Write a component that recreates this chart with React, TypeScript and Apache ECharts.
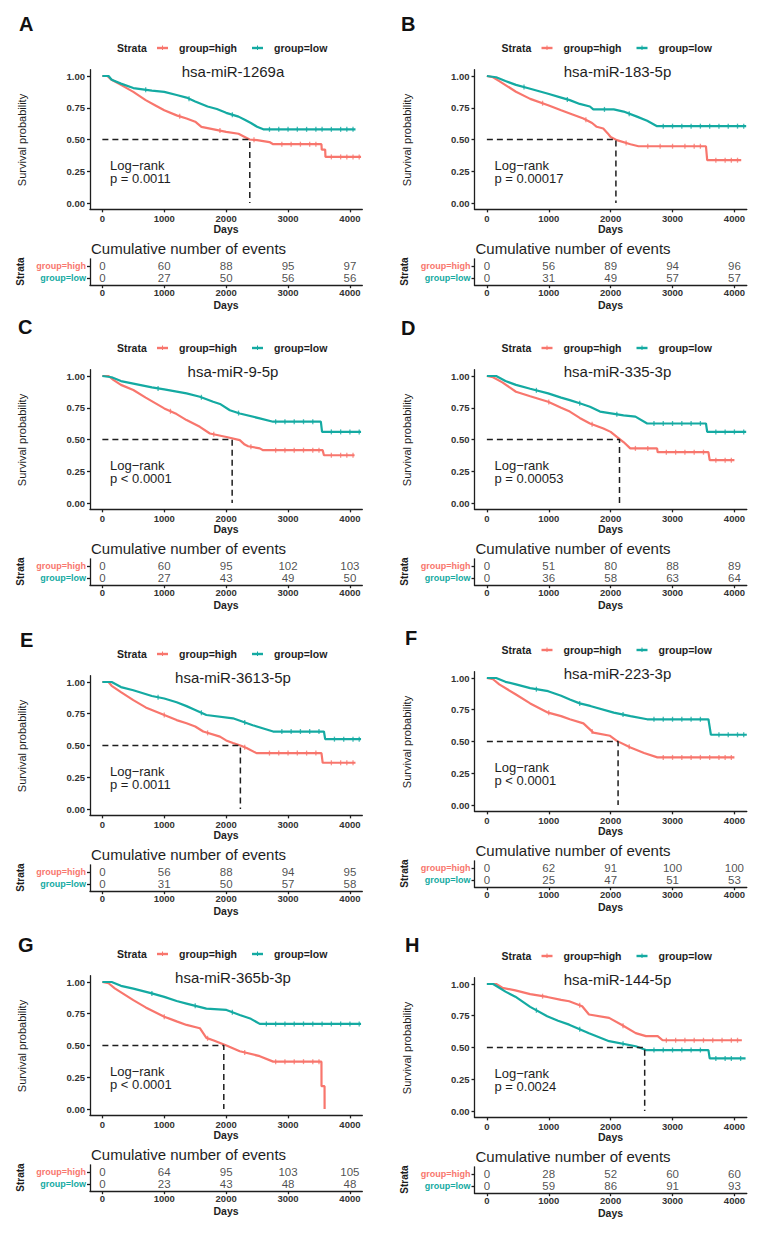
import React, { useEffect, useRef } from "react";
import * as echarts from "echarts";

// ---------------- DATA ----------------
const panelLetters = ["A", "B", "C", "D", "E", "F", "G", "H"];
const titles = [
  "hsa-miR-1269a", "hsa-miR-183-5p", "hsa-miR-9-5p", "hsa-miR-335-3p",
  "hsa-miR-3613-5p", "hsa-miR-223-3p", "hsa-miR-365b-3p", "hsa-miR-144-5p",
];
const pTexts = [
  "p = 0.0011", "p = 0.00017", "p < 0.0001", "p = 0.00053",
  "p = 0.0011", "p < 0.0001", "p < 0.0001", "p = 0.0024",
];
const medianDays = [2382, 2085, 2097, 2143, 2230, 2120, 1962, 2550];
const timeTicks = [0, 1000, 2000, 3000, 4000];
const survTicks = [0, 0.25, 0.5, 0.75, 1];
const strataNames = ["group=high", "group=low"];

// Kaplan-Meier curves: [days, survival probability]
const kmA_high = [[0,1],[80,1],[150,0.97],[300,0.93],[500,0.875],[700,0.81],[850,0.77],[1000,0.73],[1200,0.69],[1360,0.665],[1500,0.64],[1600,0.6],[1800,0.58],[2000,0.56],[2200,0.545],[2300,0.52],[2380,0.5],[2500,0.495],[2700,0.48],[2760,0.463],[3540,0.463],[3545,0.42],[3600,0.42],[3605,0.363],[4180,0.363]];
const kmA_low = [[0,1],[100,1],[150,0.97],[300,0.94],[500,0.905],[800,0.885],[1000,0.875],[1200,0.85],[1360,0.83],[1500,0.8],[1600,0.78],[1700,0.76],[1850,0.74],[2000,0.71],[2200,0.68],[2300,0.655],[2400,0.63],[2500,0.6],[2600,0.58],[4090,0.58]];
const kmB_high = [[0,1],[100,0.99],[200,0.96],[470,0.876],[700,0.82],[990,0.77],[1200,0.73],[1340,0.705],[1560,0.666],[1700,0.63],[1775,0.6],[1880,0.587],[1950,0.55],[2000,0.52],[2100,0.495],[2320,0.463],[2450,0.447],[3540,0.447],[3560,0.337],[4110,0.337]];
const kmB_low = [[0,1],[150,0.99],[300,0.96],[470,0.93],[700,0.9],[990,0.86],[1200,0.83],[1340,0.81],[1500,0.78],[1665,0.76],[1720,0.737],[2050,0.737],[2210,0.72],[2425,0.68],[2590,0.647],[2750,0.605],[4190,0.605]];
const kmC_high = [[0,1],[100,1],[177,0.97],[300,0.93],[500,0.89],[700,0.83],[1000,0.745],[1200,0.7],[1360,0.653],[1575,0.6],[1737,0.547],[2005,0.52],[2220,0.495],[2300,0.46],[2355,0.447],[2543,0.43],[2597,0.416],[3560,0.416],[3580,0.376],[4075,0.376]];
const kmC_low = [[0,1],[150,0.99],[300,0.96],[500,0.94],[800,0.91],[1000,0.895],[1360,0.863],[1575,0.837],[1790,0.797],[1900,0.78],[2060,0.73],[2220,0.705],[2543,0.666],[2758,0.64],[3530,0.64],[3550,0.56],[4180,0.56]];
const kmD_high = [[0,1],[100,0.99],[250,0.95],[470,0.876],[700,0.84],[990,0.797],[1200,0.75],[1340,0.72],[1500,0.67],[1666,0.626],[1883,0.587],[2000,0.56],[2100,0.52],[2208,0.48],[2317,0.43],[2750,0.43],[2760,0.4],[3580,0.4],[3600,0.337],[4000,0.337]];
const kmD_low = [[0,1],[150,1],[300,0.96],[470,0.93],[700,0.9],[990,0.863],[1200,0.83],[1340,0.81],[1500,0.785],[1666,0.758],[1828,0.72],[2208,0.69],[2400,0.68],[2590,0.626],[3540,0.626],[3560,0.56],[4190,0.56]];
const kmE_high = [[0,1],[100,1],[150,0.97],[300,0.92],[500,0.857],[700,0.8],[1000,0.74],[1200,0.7],[1360,0.675],[1500,0.65],[1630,0.61],[1900,0.57],[2000,0.54],[2110,0.52],[2230,0.5],[2330,0.48],[2490,0.44],[3540,0.44],[3560,0.364],[4090,0.364]];
const kmE_low = [[0,1],[150,1],[300,0.96],[500,0.935],[800,0.89],[1000,0.87],[1200,0.84],[1360,0.81],[1500,0.78],[1680,0.74],[2110,0.714],[2430,0.66],[2760,0.61],[3580,0.61],[3600,0.55],[4180,0.55]];
const kmF_high = [[0,1],[100,0.99],[200,0.95],[470,0.87],[700,0.8],[990,0.727],[1200,0.7],[1340,0.675],[1560,0.643],[1720,0.57],[1990,0.545],[2100,0.505],[2320,0.453],[2540,0.41],[2755,0.375],[4000,0.375]];
const kmF_low = [[0,1],[150,1],[300,0.97],[470,0.95],[700,0.92],[990,0.896],[1200,0.86],[1340,0.83],[1500,0.8],[1670,0.78],[2050,0.727],[2320,0.7],[2590,0.675],[3580,0.675],[3620,0.553],[4200,0.553]];
const kmG_high = [[0,1],[100,0.99],[200,0.95],[500,0.857],[700,0.8],[1000,0.727],[1200,0.69],[1360,0.662],[1575,0.636],[1680,0.56],[1800,0.54],[2005,0.5],[2220,0.455],[2543,0.416],[2760,0.373],[3540,0.373],[3541,0.18],[3590,0.18],[3591,0]];
const kmG_low = [[0,1],[150,1],[300,0.97],[500,0.948],[800,0.91],[1000,0.883],[1200,0.85],[1360,0.83],[1680,0.79],[2005,0.78],[2220,0.74],[2400,0.71],[2543,0.67],[4180,0.67]];
const kmH_high = [[0,1],[150,1],[250,0.97],[460,0.95],[700,0.92],[975,0.898],[1200,0.875],[1330,0.864],[1540,0.825],[1650,0.76],[1975,0.733],[2190,0.675],[2405,0.613],[2570,0.59],[2760,0.59],[2840,0.557],[4120,0.557]];
const kmH_low = [[0,1],[100,1],[200,0.97],[300,0.94],[460,0.9],[700,0.82],[975,0.746],[1150,0.71],[1330,0.68],[1650,0.613],[1975,0.55],[2405,0.51],[2570,0.48],[3580,0.48],[3600,0.414],[4180,0.414]];

// Censoring times (days) shown as tick marks on the curves
const cA_high = [1250, 1900, 2450, 2900, 3050, 3200, 3350, 3450, 3700, 3850, 3950, 4050, 4150];
const cA_low = [700, 1400, 2100, 2700, 2850, 3000, 3150, 3300, 3450, 3550, 3700, 3850, 3950, 4050];
const cB_high = [900, 1600, 2250, 2600, 2800, 3000, 3200, 3350, 3450, 3700, 3850, 3950, 4050];
const cB_low = [600, 1300, 1900, 2300, 2850, 3000, 3150, 3300, 3450, 3600, 3750, 3900, 4050, 4150];
const cC_high = [1100, 1800, 2400, 2800, 2950, 3100, 3250, 3400, 3500, 3700, 3850, 3950, 4050];
const cC_low = [900, 1600, 2200, 2800, 2950, 3100, 3250, 3400, 3700, 3850, 4000, 4150];
const cD_high = [1000, 1700, 2400, 2600, 2900, 3050, 3200, 3350, 3500, 3700, 3850, 3950];
const cD_low = [800, 1500, 2100, 2700, 2850, 3000, 3150, 3300, 3450, 3700, 3850, 4000, 4150];
const cE_high = [1000, 1700, 2300, 2700, 2850, 3000, 3150, 3300, 3450, 3700, 3850, 3950, 4050];
const cE_low = [900, 1600, 2300, 2900, 3050, 3200, 3350, 3500, 3750, 3900, 4050, 4150];
const cF_high = [1000, 1700, 2300, 2850, 3000, 3150, 3300, 3450, 3600, 3750, 3850, 3950];
const cF_low = [800, 1500, 2200, 2700, 2850, 3000, 3150, 3300, 3450, 3750, 3900, 4050, 4150];
const cG_high = [1000, 1700, 2300, 2800, 2950, 3100, 3250, 3400, 3500];
const cG_low = [800, 1500, 2100, 2650, 2800, 2950, 3100, 3250, 3400, 3550, 3700, 3850, 4000, 4150];
const cH_high = [900, 1500, 2200, 2900, 3050, 3200, 3350, 3500, 3650, 3800, 3950, 4050];
const cH_low = [800, 1500, 2200, 2700, 2850, 3000, 3150, 3300, 3450, 3700, 3850, 3950, 4100];

// Cumulative number of events at 0, 1000, 2000, 3000, 4000 days
const evA_high = [0, 60, 88, 95, 97];   const evA_low = [0, 27, 50, 56, 56];
const evB_high = [0, 56, 89, 94, 96];   const evB_low = [0, 31, 49, 57, 57];
const evC_high = [0, 60, 95, 102, 103]; const evC_low = [0, 27, 43, 49, 50];
const evD_high = [0, 51, 80, 88, 89];   const evD_low = [0, 36, 58, 63, 64];
const evE_high = [0, 56, 88, 94, 95];   const evE_low = [0, 31, 50, 57, 58];
const evF_high = [0, 62, 91, 100, 100]; const evF_low = [0, 25, 47, 51, 53];
const evG_high = [0, 64, 95, 103, 105]; const evG_low = [0, 23, 43, 48, 48];
const evH_high = [0, 28, 52, 60, 60];   const evH_low = [0, 59, 86, 91, 93];

const kmHigh = [kmA_high, kmB_high, kmC_high, kmD_high, kmE_high, kmF_high, kmG_high, kmH_high];
const kmLow = [kmA_low, kmB_low, kmC_low, kmD_low, kmE_low, kmF_low, kmG_low, kmH_low];
const censHigh = [cA_high, cB_high, cC_high, cD_high, cE_high, cF_high, cG_high, cH_high];
const censLow = [cA_low, cB_low, cC_low, cD_low, cE_low, cF_low, cG_low, cH_low];
const evHigh = [evA_high, evB_high, evC_high, evD_high, evE_high, evF_high, evG_high, evH_high];
const evLow = [evA_low, evB_low, evC_low, evD_low, evE_low, evF_low, evG_low, evH_low];

// ---------------- LAYOUT / STYLE ----------------
const RED = "#F8766D";
const TEAL = "#14AAA2";
const INK = "#1e1e1e";
const FONT = "'Liberation Sans', Arial, Helvetica, sans-serif";
const panelOffsets = [[0, 0], [384.5, 0], [0, 300], [384.5, 300], [0, 606], [384.5, 602], [0, 906], [384.5, 908]];
const letterPos = [[19, 23.5], [401, 24], [18, 327], [401, 327.5], [20, 639.5], [405, 637.5], [18, 945], [405, 945]];

function survAt(curve: number[][], t: number) {
  for (let k = 0; k < curve.length - 1; k++) {
    const [x0, y0] = curve[k];
    const [x1, y1] = curve[k + 1];
    if (x1 > x0 && t >= x0 && t <= x1) return y0 + ((y1 - y0) * (t - x0)) / (x1 - x0);
  }
  return curve[curve.length - 1][1];
}

function buildOption() {
  const grid: any[] = [];
  const xAxis: any[] = [];
  const yAxis: any[] = [];
  const series: any[] = [];
  const graphic: any[] = [];

  const axisLineStyle = { color: INK, width: 1.3 };
  const tickLabelStyle = { fontFamily: FONT, fontWeight: "bold", fontSize: 9.5, color: "#333" };

  panelOffsets.forEach(([dx, dy], i) => {
    const gKM = grid.length;
    grid.push({ left: 90 + dx, top: 69.65 + dy, width: 272.3, height: 139.7, outerBoundsMode: "none" });
    const gT = grid.length;
    grid.push({ left: 90 + dx, top: 258.8 + dy, width: 272.3, height: 26.4, outerBoundsMode: "none" });

    [gKM, gT].forEach((g, j) => {
      xAxis.push({
        gridIndex: g, type: "value", min: -200, max: 4200, position: "bottom",
        axisLine: { show: true, onZero: false, lineStyle: axisLineStyle },
        axisTick: { show: true, length: 3, lineStyle: axisLineStyle, customValues: timeTicks },
        axisLabel: { ...tickLabelStyle, margin: j === 0 ? 4 : 2.5, customValues: timeTicks, formatter: (v: number) => String(v) },
        splitLine: { show: false },
      });
    });
    yAxis.push({
      gridIndex: gKM, type: "value", min: -0.05, max: 1.05, position: "left",
      axisLine: { show: true, onZero: false, lineStyle: axisLineStyle },
      axisTick: { show: true, length: 3, lineStyle: axisLineStyle, customValues: survTicks },
      axisLabel: { ...tickLabelStyle, margin: 5, customValues: survTicks, formatter: (v: number) => v.toFixed(2) },
      splitLine: { show: false },
    });
    yAxis.push({
      gridIndex: gT, type: "value", min: 0.4, max: 2.6, position: "left",
      axisLine: { show: true, onZero: false, lineStyle: axisLineStyle },
      axisTick: { show: true, length: 3, lineStyle: axisLineStyle, customValues: [1, 2] },
      axisLabel: {
        margin: 4, customValues: [1, 2],
        formatter: (v: number) => (v > 1.5 ? "{h|" + strataNames[0] + "}" : "{l|" + strataNames[1] + "}"),
        rich: {
          h: { color: RED, fontFamily: FONT, fontWeight: "bold", fontSize: 9, lineHeight: 10 },
          l: { color: TEAL, fontFamily: FONT, fontWeight: "bold", fontSize: 9, lineHeight: 10 },
        },
      },
      splitLine: { show: false },
    });

    const lineBase = { type: "line", xAxisIndex: gKM, yAxisIndex: gKM, symbol: "none", silent: true, z: 3 };
    series.push({ ...lineBase, name: titles[i] + " high", data: kmHigh[i], lineStyle: { color: RED, width: 2.2 } });
    series.push({ ...lineBase, name: titles[i] + " low", data: kmLow[i], lineStyle: { color: TEAL, width: 2.2 } });
    const censBase = { type: "scatter", xAxisIndex: gKM, yAxisIndex: gKM, symbol: "rect", symbolSize: [1.3, 5], silent: true, z: 3 };
    series.push({ ...censBase, data: censHigh[i].map((t) => [t, survAt(kmHigh[i], t)]), itemStyle: { color: RED } });
    series.push({ ...censBase, data: censLow[i].map((t) => [t, survAt(kmLow[i], t)]), itemStyle: { color: TEAL } });
    const m = medianDays[i];
    series.push({
      ...lineBase, z: 4, name: "median", data: [[0, 0.5], [m, 0.5], [m, 0]],
      lineStyle: { color: INK, width: 1.5, type: [6, 4] },
    });
    const tableData: any[] = [];
    timeTicks.forEach((t, k) => {
      tableData.push([t, 2, evHigh[i][k]]);
      tableData.push([t, 1, evLow[i][k]]);
    });
    series.push({
      type: "scatter", xAxisIndex: gT, yAxisIndex: gT, data: tableData, symbolSize: 1, silent: true,
      itemStyle: { color: "rgba(0,0,0,0)" },
      label: {
        show: true, position: "inside", formatter: (p: any) => String(p.value[2]),
        fontFamily: FONT, fontSize: 11.5, lineHeight: 11, color: INK,
      },
    });

    const txt = (x: number, y: number, text: string, st: any, extra: any = {}) => ({
      type: "text", x: x + dx, y: y + dy, silent: true, ...extra,
      style: { text, fontFamily: FONT, fill: INK, verticalAlign: "middle", ...st },
    });
    // panel letter
    graphic.push({
      type: "text", x: letterPos[i][0], y: letterPos[i][1], silent: true,
      style: { text: panelLetters[i], fontFamily: FONT, fontWeight: "bold", fontSize: 20, fill: "#111", verticalAlign: "middle" },
    });
    // legend
    graphic.push(txt(117, 48, "Strata", { fontWeight: "bold", fontSize: 10.5 }));
    graphic.push({ type: "line", silent: true, shape: { x1: 157 + dx, y1: 48 + dy, x2: 168 + dx, y2: 48 + dy }, style: { stroke: RED, lineWidth: 2.4 } });
    graphic.push({ type: "line", silent: true, shape: { x1: 162.5 + dx, y1: 45.5 + dy, x2: 162.5 + dx, y2: 50 + dy }, style: { stroke: RED, lineWidth: 1 } });
    graphic.push(txt(179, 48, strataNames[0], { fontWeight: "bold", fontSize: 10.5 }));
    graphic.push({ type: "line", silent: true, shape: { x1: 252 + dx, y1: 48 + dy, x2: 263 + dx, y2: 48 + dy }, style: { stroke: TEAL, lineWidth: 2.4 } });
    graphic.push({ type: "line", silent: true, shape: { x1: 257.5 + dx, y1: 45.5 + dy, x2: 257.5 + dx, y2: 50 + dy }, style: { stroke: TEAL, lineWidth: 1 } });
    graphic.push(txt(274, 48, strataNames[1], { fontWeight: "bold", fontSize: 10.5 }));
    // title
    graphic.push(txt(233, 71, titles[i], { fontSize: 15, align: "center" }));
    // log-rank
    graphic.push(txt(110, 165, "Log\u2212rank", { fontSize: 13 }));
    graphic.push(txt(110, 178.5, pTexts[i], { fontSize: 13 }));
    // axis names
    graphic.push(txt(22, 140, "Survival probability", { fontSize: 11, align: "center" }, { rotation: Math.PI / 2 }));
    graphic.push(txt(226, 229, "Days", { fontSize: 10.5, fontWeight: "bold", align: "center" }));
    graphic.push(txt(91, 248, "Cumulative number of events", { fontSize: 15 }));
    graphic.push(txt(20, 271.5, "Strata", { fontSize: 10, fontWeight: "bold", align: "center" }, { rotation: Math.PI / 2 }));
    graphic.push(txt(226, 304.5, "Days", { fontSize: 10.5, fontWeight: "bold", align: "center" }));
  });

  return {
    animation: false,
    backgroundColor: "#ffffff",
    textStyle: { fontFamily: FONT },
    grid, xAxis, yAxis, series, graphic,
  };
}

export default function App() {
  const ref = useRef<HTMLDivElement>(null);
  useEffect(() => {
    if (!ref.current) return;
    const chart = echarts.init(ref.current, null, { renderer: "svg" });
    chart.setOption(buildOption() as any);
    return () => chart.dispose();
  }, []);
  return (
    <div
      ref={ref}
      style={{ position: "absolute", left: 0, top: 0, width: 766, height: 1233, background: "#fff" }}
    />
  );
}
